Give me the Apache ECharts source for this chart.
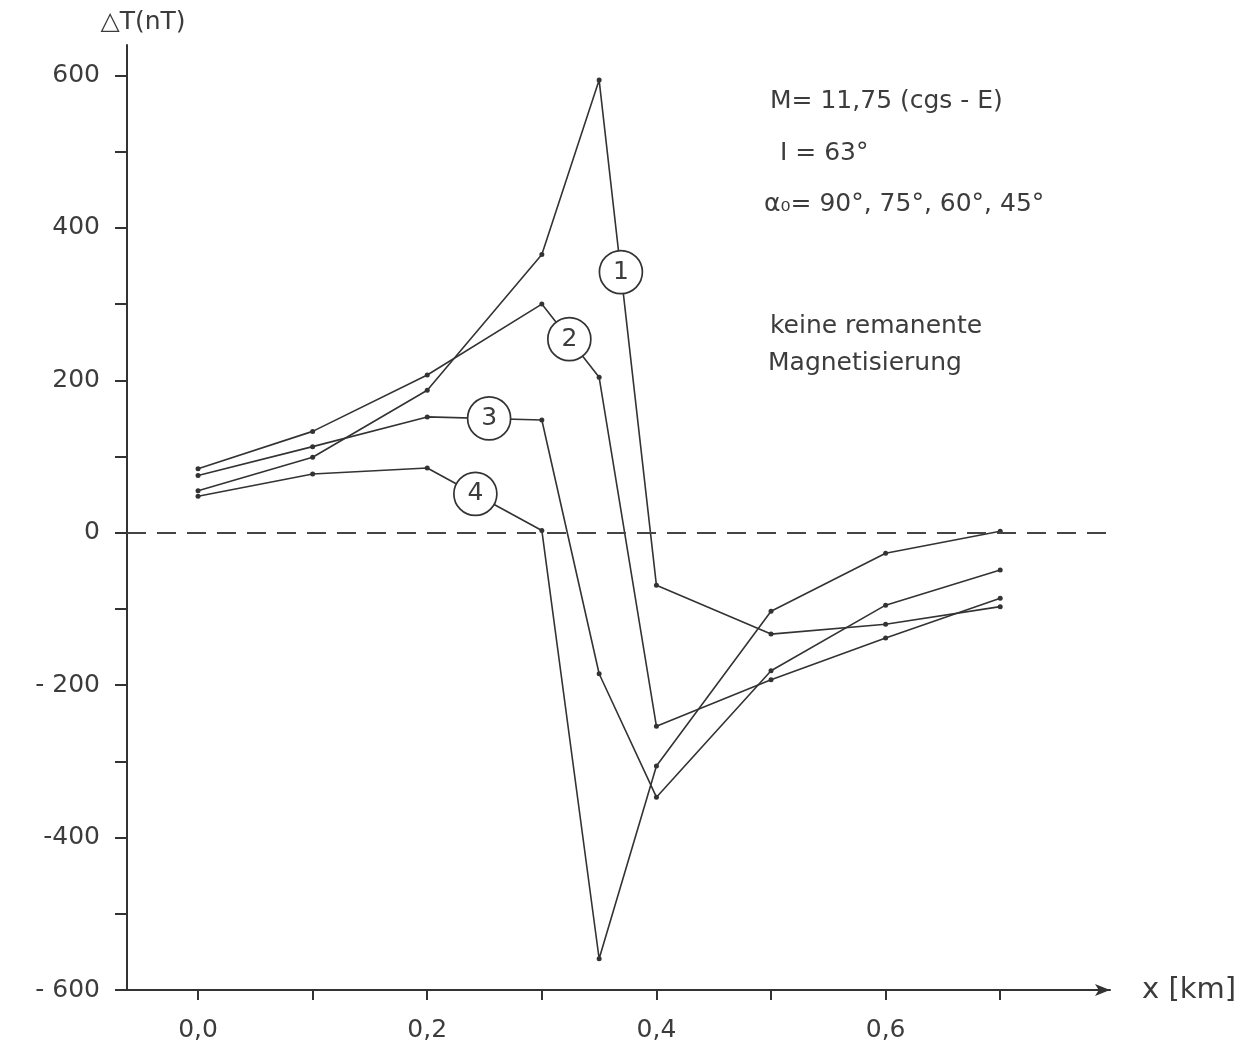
<!DOCTYPE html>
<html><head><meta charset="utf-8">
<script src="https://cdn.jsdelivr.net/npm/echarts@6/dist/echarts.min.js"></script>
<style>html,body{margin:0;padding:0;background:#fff}#c{width:1250px;height:1045px}</style>
</head><body><div id="c"></div>
<script>
// x positions (km)
const xValues = [0, 0.1, 0.2, 0.3, 0.35, 0.4, 0.5, 0.6, 0.7];
// ΔT (nT) for the four curves (alpha0 = 90°, 75°, 60°, 45°)
const curve1 = [55, 99, 187, 365, 594, -69, -133, -120, -97];
const curve2 = [84, 133, 207, 300, 204, -254, -193, -138, -86];
const curve3 = [75, 113, 152, 148, -185, -347, -181, -95, -49];
const curve4 = [48, 77, 85, 3, -559, -306, -103, -27, 2];
// circled curve labels placed on the curves
const curveLabels = ['1', '2', '3', '4'];
const labelX = [0.369, 0.324, 0.254, 0.242];
const labelY = [342, 254, 150, 51];
// axis ticks / labels
const yTickValues = [-600, -500, -400, -300, -200, -100, 0, 100, 200, 300, 400, 500, 600];
const yLabelValues = [-600, -400, -200, 0, 200, 400, 600];
const yLabelTexts = ['- 600', '-400', '- 200', '0', '200', '400', '600'];
const xTickValues = [0, 0.1, 0.2, 0.3, 0.4, 0.5, 0.6, 0.7];
const xLabelValues = [0, 0.2, 0.4, 0.6];
const xLabelTexts = ['0,0', '0,2', '0,4', '0,6'];
const annotations = ['M= 11,75 (cgs - E)', 'I = 63°', 'α₀= 90°, 75°, 60°, 45°', 'keine remanente', 'Magnetisierung'];

const FONT = 'DejaVu Sans';
const INK = '#333333';
const TXT = '#3c3c3c';

function pick(vals, texts, v) {
  for (let i = 0; i < vals.length; i++) if (Math.abs(vals[i] - v) < 1e-9) return texts[i];
  return '';
}

const curves = [curve1, curve2, curve3, curve4];
const series = curves.map((c, i) => ({
  type: 'line',
  name: 'Kurve ' + curveLabels[i],
  data: xValues.map((x, j) => [x, c[j]]),
  symbol: 'circle',
  symbolSize: 5,
  showSymbol: true,
  lineStyle: { color: INK, width: 1.6 },
  itemStyle: { color: INK },
  z: 3
}));

series.push({
  type: 'line',
  name: 'null',
  data: [],
  markLine: {
    silent: true,
    symbol: ['none', 'none'],
    label: { show: false },
    lineStyle: { color: '#444', width: 2, type: [19, 11] },
    data: [{ yAxis: 0 }]
  }
});

series.push({
  type: 'scatter',
  name: 'labels',
  data: curveLabels.map((t, i) => [labelX[i], labelY[i], t]),
  symbol: 'circle',
  symbolSize: 43,
  itemStyle: { color: '#ffffff', borderColor: INK, borderWidth: 1.7, opacity: 1 },
  label: {
    show: true, position: 'inside',
    formatter: p => p.data[2],
    fontFamily: FONT, fontSize: 25, color: TXT
  },
  z: 5
});

const annY = [100, 152, 203, 325, 362];
const annX = [770, 780, 764, 770, 768];
const graphics = annotations.map((t, i) => ({
  type: 'text',
  left: annX[i],
  top: annY[i] - 11,
  style: { text: t, font: '25px "' + FONT + '"', fill: TXT }
}));

const chart = echarts.init(document.getElementById('c'));
chart.setOption({
  backgroundColor: '#fff',
  animation: false,
  grid: { left: 127, right: 140, top: 45, bottom: 55, containLabel: false },
  xAxis: {
    type: 'value',
    min: -0.062, max: 0.7958,
    name: 'x [km]',
    nameLocation: 'end',
    nameGap: 32,
    nameTextStyle: { fontFamily: FONT, fontSize: 29, color: TXT, verticalAlign: 'middle' },
    axisLine: { onZero: false, symbol: ['none', 'arrow'], symbolSize: [9, 15], lineStyle: { color: INK, width: 2 } },
    axisTick: { show: true, length: 10, customValues: xTickValues, lineStyle: { color: INK, width: 2 } },
    axisLabel: {
      customValues: xLabelValues, margin: 28,
      formatter: v => pick(xLabelValues, xLabelTexts, v),
      fontFamily: FONT, fontSize: 25, color: TXT
    },
    splitLine: { show: false }
  },
  yAxis: {
    type: 'value',
    min: -600, max: 640,
    name: '△T(nT)',
    nameLocation: 'end',
    nameGap: 10,
    nameTextStyle: { fontFamily: FONT, fontSize: 25, color: TXT, padding: [0, 0, 0, 32] },
    axisLine: { onZero: false, lineStyle: { color: INK, width: 2 } },
    axisTick: { show: true, length: 12, customValues: yTickValues, lineStyle: { color: INK, width: 2 } },
    axisLabel: {
      customValues: yLabelValues, margin: 27,
      formatter: v => pick(yLabelValues, yLabelTexts, v),
      fontFamily: FONT, fontSize: 25, color: TXT
    },
    splitLine: { show: false }
  },
  graphic: graphics,
  series: series
});
</script>
</body></html>
